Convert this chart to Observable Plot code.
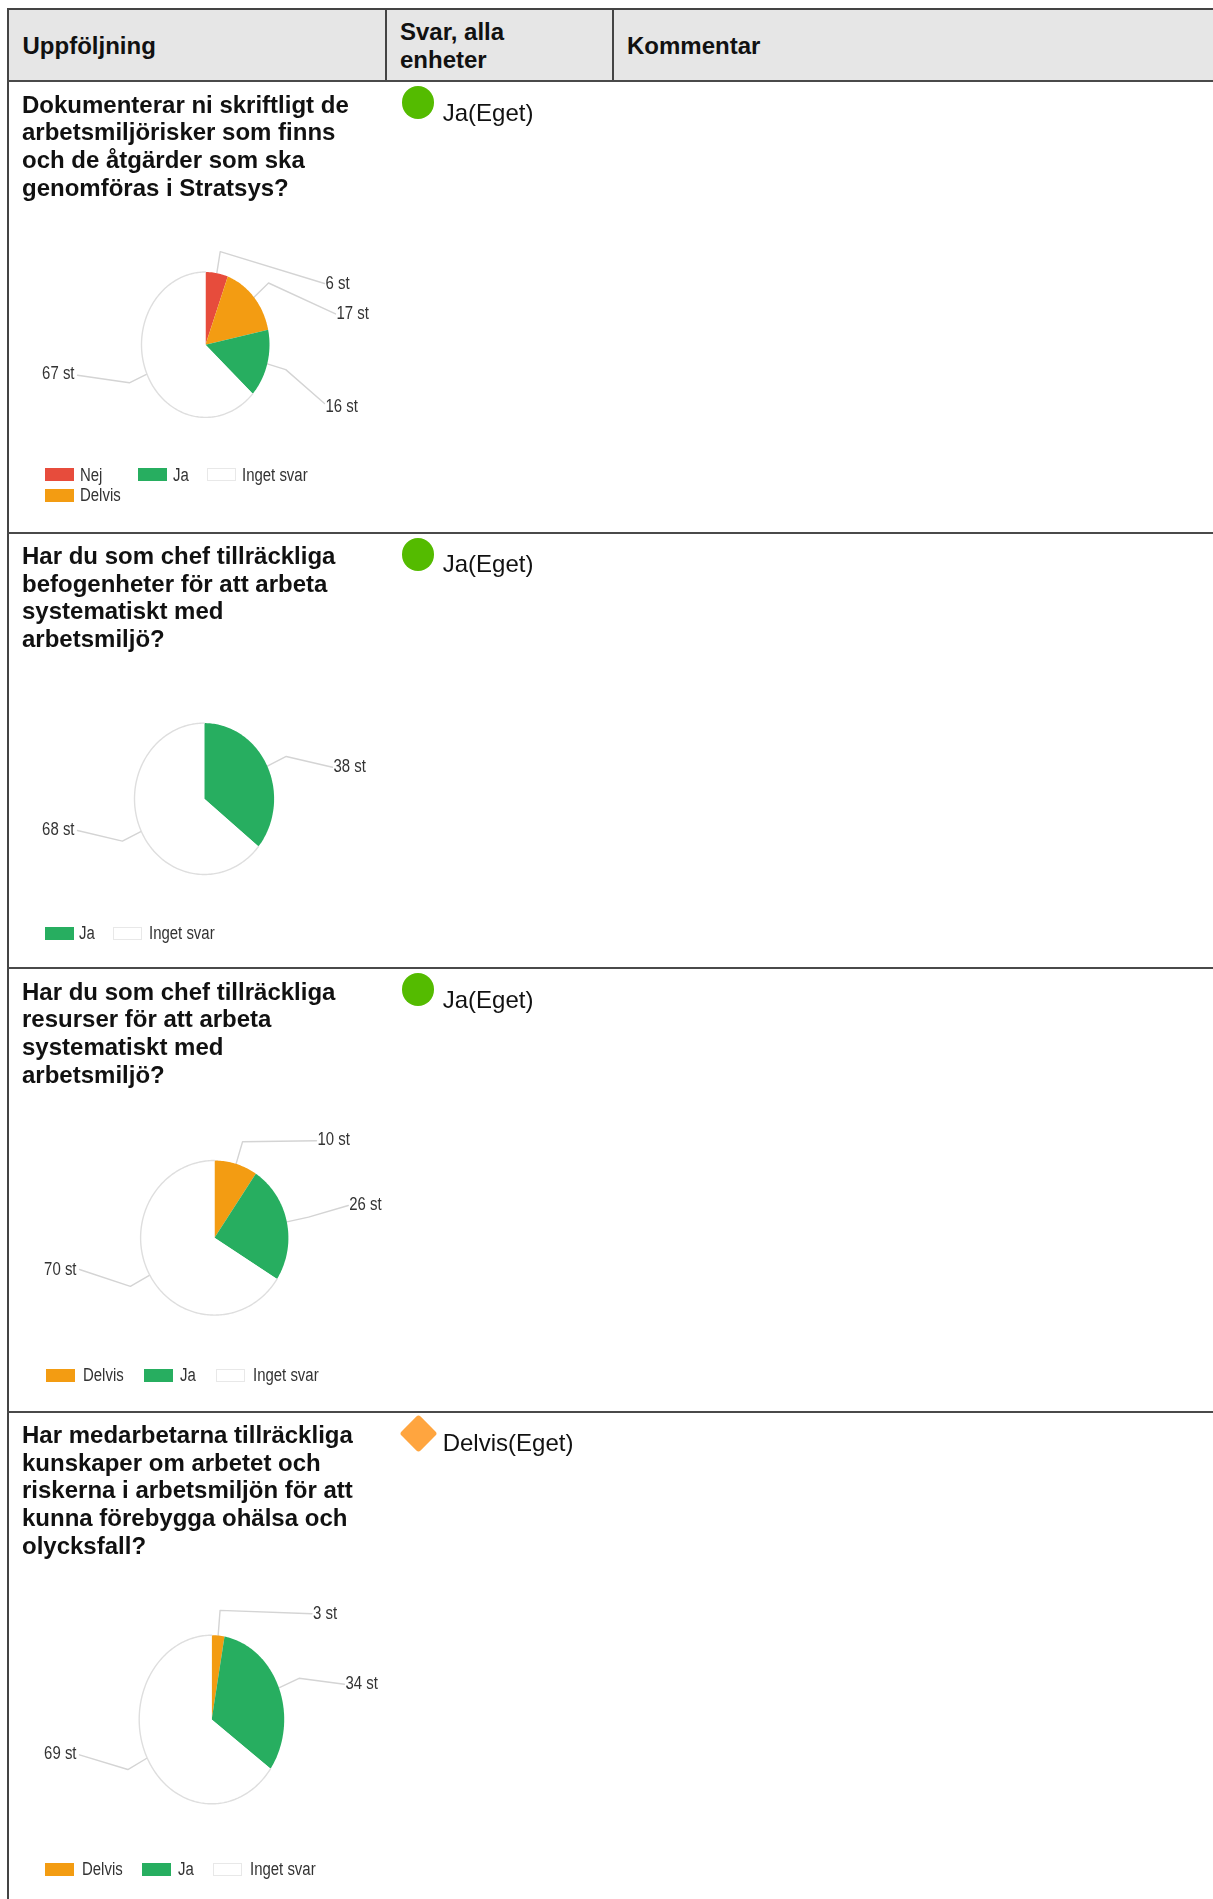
<!DOCTYPE html>
<html lang="sv">
<head>
<meta charset="utf-8">
<title>Uppföljning</title>
<script src="https://cdn.jsdelivr.net/npm/d3@7"></script>
<script src="https://cdn.jsdelivr.net/npm/@observablehq/plot@0.6"></script>
<style>
html,body{margin:0;padding:0;background:#fff}
#page{position:relative;width:1213px;height:1899px;overflow:hidden;font-family:"Liberation Sans",Arial,sans-serif;color:#111;filter:blur(0.3px)}
.abs{position:absolute}
.t{position:absolute;white-space:pre;font-size:24px;line-height:27.6px}
.b{font-weight:700}
.lg{position:absolute;white-space:pre;font-family:"Liberation Sans",sans-serif;font-size:18px;line-height:20px;color:#333;transform:scaleX(0.83);transform-origin:left center}
.pie{position:absolute;left:0}
.pie svg{display:block;background:transparent;overflow:visible}
</style>
</head>
<body>
<div id="page"></div>
<script>
// ---- chart data ----
const headers = ["Uppföljning", "Svar, alla\nenheter", "Kommentar"];

const question1 = ["Dokumenterar ni skriftligt de", "arbetsmiljörisker som finns", "och de åtgärder som ska", "genomföras i Stratsys?"];
const question2 = ["Har du som chef tillräckliga", "befogenheter för att arbeta", "systematiskt med", "arbetsmiljö?"];
const question3 = ["Har du som chef tillräckliga", "resurser för att arbeta", "systematiskt med", "arbetsmiljö?"];
const question4 = ["Har medarbetarna tillräckliga", "kunskaper om arbetet och", "riskerna i arbetsmiljön för att", "kunna förebygga ohälsa och", "olycksfall?"];

const answers1 = ["Nej", "Delvis", "Ja", "Inget svar"];
const counts1 = [6, 17, 16, 67];
const answers2 = ["Ja", "Inget svar"];
const counts2 = [38, 68];
const answers3 = ["Delvis", "Ja", "Inget svar"];
const counts3 = [10, 26, 70];
const answers4 = ["Delvis", "Ja", "Inget svar"];
const counts4 = [3, 34, 69];

const status1 = "Ja(Eget)";
const status2 = "Ja(Eget)";
const status3 = "Ja(Eget)";
const status4 = "Delvis(Eget)";

const answerDomain = ["Nej", "Delvis", "Ja", "Inget svar"];
const answerColors = ["#e74c3c", "#f39c12", "#27ae60", "#ffffff"];

// ---- layout (page pixels) ----
const rowTops = [81, 533, 968, 1412];
const rowBottoms = [533, 968, 1412, 1899];
const pieBoxes = [
  {cx: 205, cy: 344.2, rx: 64, ry: 72.7},
  {cx: 203.8, cy: 798.3, rx: 69.8, ry: 75.7},
  {cx: 214, cy: 1237.3, rx: 73.9, ry: 77.3},
  {cx: 211.2, cy: 1719, rx: 72.5, ry: 84.3}
];
const labelAnchors = [
  [[324, 283], [335, 313.4], [324, 403], [77, 374.7]],
  [[332, 766.7], [77, 830]],
  [[316, 1140.3], [347.8, 1205], [79, 1269]],
  [[311.5, 1613.3], [343.9, 1683.7], [79, 1754.3]]
];
const labelNudges = [
  [0, -1, 2.4, -1.5],
  [-1, -1],
  [-2, -1, 0],
  [-1, -1, -2]
];
const questionBaselines = [112.6, 564, 999.6, 1443];
const statusBaselines = [121.5, 571.7, 1008, 1451];
const markerCenters = [102.6, 554.3, 989.3, 1433.3];
const legendRows = [
  [{n:"Nej",x:45.5,y:474.5,tx:80},{n:"Ja",x:138.3,y:474.5,tx:172.7},{n:"Inget svar",x:207.5,y:474.5,tx:242.3},{n:"Delvis",x:45.5,y:495.2,tx:80}],
  [{n:"Ja",x:45.5,y:933.3,tx:79},{n:"Inget svar",x:113.8,y:933.3,tx:148.6}],
  [{n:"Delvis",x:46.2,y:1375,tx:82.6},{n:"Ja",x:144.3,y:1375,tx:180},{n:"Inget svar",x:216.6,y:1375,tx:253}],
  [{n:"Delvis",x:45.8,y:1869.3,tx:81.8},{n:"Ja",x:142.3,y:1869.3,tx:177.5},{n:"Inget svar",x:213.4,y:1869.3,tx:249.8}]
];

const rows = [
  {q: question1, a: answers1, c: counts1, s: status1},
  {q: question2, a: answers2, c: counts2, s: status2},
  {q: question3, a: answers3, c: counts3, s: status3},
  {q: question4, a: answers4, c: counts4, s: status4}
];

// ---- page frame ----
const page = document.getElementById("page");
function box(l, t, w, h, bg) {
  const d = document.createElement("div");
  d.className = "abs";
  d.style.cssText = `left:${l}px;top:${t}px;width:${w}px;height:${h}px;background:${bg}`;
  page.appendChild(d);
  return d;
}
function text(str, x, baseline, cls) {
  const d = document.createElement("div");
  d.className = cls;
  d.textContent = str;
  d.style.left = x + "px";
  d.style.top = (baseline - 22.1) + "px";
  page.appendChild(d);
  return d;
}
const lineColor = "#4a4a4a";
box(7, 9, 1206, 72, "#e6e6e6");
box(7, 8, 1206, 2, "#444");
box(6.5, 8, 2, 1891, "#444");
box(385, 8, 2, 73, "#444");
box(612, 8, 2, 73, "#444");
rowTops.forEach(y => box(7, y - 1, 1206, 2, lineColor));

text(headers[0], 22.5, 54, "t b");
headers[1].split("\n").forEach((s, i) => text(s, 400, 39.6 + i * 28, "t b"));
text(headers[2], 627, 54, "t b");

// ---- rows ----
rows.forEach((row, i) => {
  row.q.forEach((s, k) => text(s, 22, questionBaselines[i] + k * 27.7, "t b"));
  text(row.s, 442.7, statusBaselines[i], "t");
  const isDiamond = row.s.startsWith("Delvis");
  if (isDiamond) {
    const m = box(418 - 13.5, markerCenters[i] - 13.5, 27, 27, "#ffa53f");
    m.style.transform = "rotate(45deg)";
    m.style.borderRadius = "3px";
  } else {
    const m = box(418 - 16.2, markerCenters[i] - 16.4, 32.4, 32.8, "#54bb00");
    m.style.borderRadius = "50%";
  }

  // legend
  legendRows[i].forEach(l => {
    const isBlank = l.n === "Inget svar";
    const sw = box(l.x - 0.5, l.y - 6.5, 29, 13, answerColors[answerDomain.indexOf(l.n)]);
    sw.style.boxSizing = "border-box";
    if (isBlank) sw.style.border = "1px solid #e8e8e8";
    const d = document.createElement("div");
    d.className = "lg";
    d.textContent = l.n;
    d.style.left = l.tx + "px";
    d.style.top = (l.y - 10) + "px";
    page.appendChild(d);
  });

  // pie through Plot's scales
  const P = pieBoxes[i];
  const top = rowTops[i], height = rowBottoms[i] - top;
  const total = d3.sum(row.c);
  const cum = d3.cumsum(row.c);
  const pt = (angle, r) => ({x: r * Math.sin(angle), y: r * Math.cos(angle)});
  const wedge = [], outline = [], leaders = [], labels = [];
  row.a.forEach((name, k) => {
    const a0 = ((cum[k] - row.c[k]) / total) * 2 * Math.PI;
    const a1 = (cum[k] / total) * 2 * Math.PI;
    const steps = Math.ceil((a1 - a0) / 0.02);
    wedge.push({answer: name, x: 0, y: 0});
    for (let s = 0; s <= steps; s++) {
      const p = pt(a0 + (a1 - a0) * s / steps, 1);
      wedge.push({answer: name, ...p});
      if (name === "Inget svar") outline.push(p);
    }
    wedge.push({answer: name, x: 0, y: 0});
    const mid = (a0 + a1) / 2;
    const [ax, ay] = labelAnchors[i][k];
    const end = {x: (ax - P.cx) / P.rx, y: (P.cy - ay) / P.ry};
    const right = ax > P.cx;
    leaders.push({k, ...pt(mid, 1)}, {k, ...pt(mid, 1.3)}, {k, ...end});
    labels.push({text: row.c[k] + " st", x: end.x, y: end.y - labelNudges[i][k] / P.ry, right});
  });

  const chart = Plot.plot({
    width: 400,
    height,
    margin: 0,
    x: {domain: [-1, 1], range: [P.cx - P.rx, P.cx + P.rx], axis: null},
    y: {domain: [-1, 1], range: [P.cy + P.ry - top, P.cy - P.ry - top], axis: null},
    color: {domain: answerDomain, range: answerColors},
    style: {background: "transparent"},
    marks: [
      Plot.line(leaders, {x: "x", y: "y", z: "k", stroke: "#d4d4d4", strokeWidth: 1.4, curve: "linear"}),
      Plot.line(wedge, {x: "x", y: "y", z: "answer", fill: "answer", stroke: null, curve: "linear"}),
      Plot.line(outline, {x: "x", y: "y", stroke: "#dedede", strokeWidth: 1.4, curve: "linear"}),
      Plot.text(labels.filter(d => d.right), {x: "x", y: "y", text: "text", textAnchor: "start", dx: 1, fontSize: 18, fontFamily: "Liberation Sans, sans-serif", fill: "#333"}),
      Plot.text(labels.filter(d => !d.right), {x: "x", y: "y", text: "text", textAnchor: "end", dx: -3, fontSize: 18, fontFamily: "Liberation Sans, sans-serif", fill: "#333"})
    ]
  });
  const holder = document.createElement("div");
  holder.className = "pie";
  holder.style.top = top + "px";
  holder.appendChild(chart);
  page.appendChild(holder);
  // the reference's labels are set in a condensed cut
  chart.querySelectorAll("text").forEach(t => {
    t.setAttribute("textLength", (t.getComputedTextLength() * 0.83).toFixed(1));
    t.setAttribute("lengthAdjust", "spacingAndGlyphs");
  });
});
</script>
</body>
</html>
